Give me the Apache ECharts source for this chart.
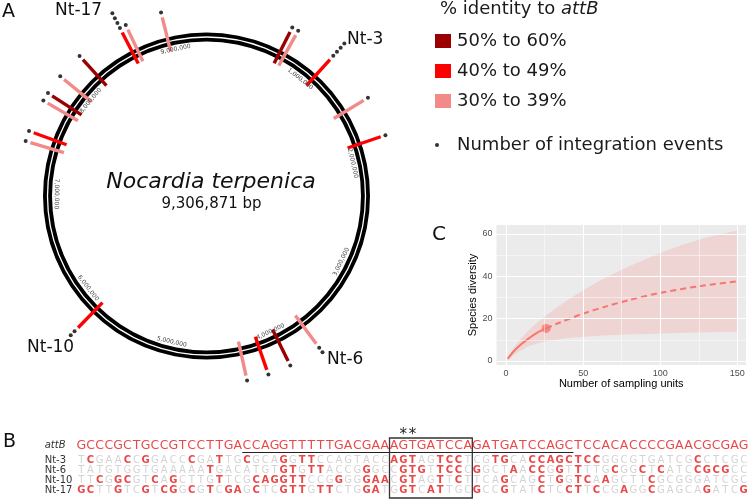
<!DOCTYPE html>
<html><head><meta charset="utf-8">
<script src="https://cdn.jsdelivr.net/npm/echarts@6/dist/echarts.min.js"></script>
<style>html,body{margin:0;padding:0;background:#fff}#c{width:750px;height:500px}</style>
</head><body><div id="c"></div>
<script>
// ===== Panel A data: integration sites on the Nocardia terpenica genome =====
const genomeLength = 9306871;
const sitePositions = [698000, 750000, 1089000, 1517000, 1841000, 3707000, 3973000, 4159000, 4333000, 5798000,
  7417000, 7500000, 7764000, 7833000, 7996000, 8216000, 8602000, 8653000, 8947000];
const siteIdentity = ['50% to 60%', '30% to 39%', '40% to 49%', '30% to 39%', '40% to 49%', '30% to 39%', '50% to 60%',
  '40% to 49%', '30% to 39%', '40% to 49%', '30% to 39%', '40% to 49%', '30% to 39%', '50% to 60%', '30% to 39%',
  '50% to 60%', '40% to 49%', '30% to 39%', '30% to 39%'];
const siteEvents = [1, 1, 4, 1, 1, 2, 1, 1, 1, 2, 1, 1, 1, 1, 1, 1, 4, 1, 1];
const identityClasses = ['50% to 60%', '40% to 49%', '30% to 39%'];
const genomeTickValues = [1000000, 2000000, 3000000, 4000000, 5000000, 6000000, 7000000, 8000000, 9000000];
const genomeTickLabels = ['1,000,000', '2,000,000', '3,000,000', '4,000,000', '5,000,000', '6,000,000', '7,000,000', '8,000,000', '9,000,000'];

// ===== Panel B data: alignment =====
const seqNames = ['attB', 'Nt-3', 'Nt-6', 'Nt-10', 'Nt-17'];
const seqAttB = 'GCCCGCTGCCGTCCTTGACCAGGTTTTTGACGAA' + 'AGTGATCCA' + 'GATGATCCAGCTCCACACCCCGAACGCGAG';
const seqNt3  = 'TCGAACCGGACCCGATTGCGCAGGTTCCAGTACC' + 'AGTAGTCCT' + 'CGTGCACCAGCTCCGGCGTGATCGCCTCGC';
const seqNt6  = 'TATGTGGTGAAAAATGACATGTGTGTTACCGGGC' + 'CGTGTTCCC' + 'GGCTAACCGGTTTTGCGGCTCATCCGCGCC';
const seqNt10 = 'TTCGGCGTCAGCTTGTTCGCAGGTTCCGGGGGAA' + 'CGTAGTTCT' + 'TCAGCAGCTGGTCAAGCTTCGCGGGATCGC';
const seqNt17 = 'GCTTGTCGTCGGCGTCGAGCTCGTTGTTCTGGAT' + 'GGTCATTGC' + 'GCCGTATCTCCTTCCGAGGCGAGCAGATCG';
const sequences = [seqAttB, seqNt3, seqNt6, seqNt10, seqNt17];
const boxStart = 35, boxEnd = 43;          // boxed core (alignment columns)
const lineStart = 19, lineEnd = 54;        // underlined region of attB
const starColumns = [36, 37];

// ===== Panel C data: rarefaction / extrapolation =====
const obsX = [1, 5, 10, 15, 20, 26];
const obsY = [1.0, 4.6, 8.0, 10.8, 13.3, 15.4];
const extX = [26, 35, 50, 65, 80, 100, 125, 150];
const extY = [15.4, 18.2, 22.4, 25.8, 28.8, 32.2, 35.3, 37.6];
const bandX = [1, 3, 5, 8, 10, 13, 16, 20, 26, 32, 40, 50, 60, 70, 80, 90, 100, 115, 130, 150];
const bandLower = [0.6, 1.8, 2.8, 4.3, 5.2, 6.4, 7.3, 8.3, 9.3, 10.0, 10.8, 11.4, 11.9, 12.3, 12.6, 12.8, 13.0, 13.3, 13.6, 13.8];
const bandUpper = [1.4, 4.0, 6.2, 9.0, 10.8, 13.1, 15.3, 18.1, 21.5, 24.8, 28.8, 33.4, 37.5, 41.3, 44.8, 48.0, 51.0, 55.0, 58.4, 61.6];
const xTicksC = [0, 50, 100, 150];
const yTicksC = [0, 20, 40, 60];
const xMinorC = [25, 75, 125];
const yMinorC = [10, 30, 50];

// ===== styling =====
const FONT = 'DejaVu Sans';
const CX = 206.5, CY = 196;
const MARK_R0 = 149, MARK_R1 = 184, DOT_R0 = 189, DOT_STEP = 5.5, LABEL_R = 150;
const classColors = {'50% to 60%': '#9B0000', '40% to 49%': '#FF0000', '30% to 39%': '#F28A8A'};
const RED_SEQ = '#E31A1C', GRAY_SEQ = '#C8C8C8';
const GG = '#F8766D';

const chart = echarts.init(document.getElementById('c'), null, {renderer: 'canvas', width: 750, height: 500});

function markSeries(cls) {
  const data = [];
  sitePositions.forEach((p, i) => { if (siteIdentity[i] === cls) data.push([MARK_R1, p]); });
  const color = classColors[cls];
  return {
    type: 'custom', name: cls, coordinateSystem: 'polar', polarIndex: 0, silent: true, z: 5,
    itemStyle: {color: color},
    data: data,
    renderItem: function (params, api) {
      const pos = api.value(1);
      const a = api.coord([MARK_R0, pos]);
      const b = api.coord([MARK_R1, pos]);
      return {type: 'line', shape: {x1: a[0], y1: a[1], x2: b[0], y2: b[1]},
        style: {stroke: color, lineWidth: 3.4, lineCap: 'butt'}};
    }
  };
}

const dotData = [];
sitePositions.forEach((p, i) => { for (let k = 0; k < siteEvents[i]; k++) dotData.push([DOT_R0 + k * DOT_STEP, p]); });

const tickSeries = {
  type: 'custom', coordinateSystem: 'polar', polarIndex: 0, silent: true, z: 6,
  data: genomeTickValues.map(v => [LABEL_R, v]),
  renderItem: function (params, api) {
    const v = api.value(1);
    const pt = api.coord([LABEL_R, v]);
    const deg = v / genomeLength * 360;
    const rot = (deg > 90 && deg < 275) ? deg - 180 : deg;
    return {type: 'text', x: pt[0], y: pt[1], rotation: -rot * Math.PI / 180,
      style: {text: genomeTickLabels[params.dataIndex], fontSize: 6, fontFamily: FONT, fill: '#444', align: 'center', verticalAlign: 'middle'}};
  }
};

// alignment letters
const attBData = [];
for (let i = 0; i < seqAttB.length; i++) attBData.push({name: seqAttB[i], value: [i + 1, 0]});
const ntData = [];
for (let r = 1; r < sequences.length; r++) {
  const s = sequences[r];
  for (let i = 0; i < s.length; i++) {
    const match = s[i] === seqAttB[i];
    ntData.push({name: s[i], value: [i + 1, r - 1],
      label: {color: match ? RED_SEQ : GRAY_SEQ, fontWeight: match ? 'bold' : 'normal'}});
  }
}

const gridLines = [];
yTicksC.forEach(v => gridLines.push({yAxis: v, lineStyle: {width: 1.1}}));
yMinorC.forEach(v => gridLines.push({yAxis: v, lineStyle: {width: 0.5}}));
xTicksC.forEach(v => gridLines.push({xAxis: v, lineStyle: {width: 1.1}}));
xMinorC.forEach(v => gridLines.push({xAxis: v, lineStyle: {width: 0.5}}));

const option = {
  animation: false,
  textStyle: {fontFamily: FONT},
  title: {
    text: '% identity to {i|attB}', left: 440, top: 0, padding: 0,
    textStyle: {fontSize: 18, fontWeight: 'normal', color: '#1a1a1a', fontFamily: FONT,
      rich: {i: {fontStyle: 'italic', fontSize: 18, fontFamily: FONT, color: '#1a1a1a'}}}
  },
  legend: [
    {data: identityClasses, orient: 'vertical', left: 430, top: 27, itemWidth: 16, itemHeight: 14, itemGap: 12,
      icon: 'rect', selectedMode: false,
      textStyle: {fontSize: 18, fontFamily: FONT, color: '#1a1a1a', padding: [0, 0, 0, 1]}},
    {data: ['Number of integration events'], orient: 'vertical', left: 430, top: 131, itemWidth: 16, itemHeight: 4,
      icon: 'circle', selectedMode: false,
      textStyle: {fontSize: 18, fontFamily: FONT, color: '#1a1a1a', padding: [0, 0, 0, 7]}}
  ],
  polar: {center: [CX, CY], radius: 230},
  angleAxis: {type: 'value', min: 0, max: genomeLength, startAngle: 90, clockwise: true, show: false},
  radiusAxis: {type: 'value', min: 0, max: 230, show: false},
  grid: [
    {left: 496.5, top: 225, width: 249.5, height: 140, show: true, backgroundColor: '#EBEBEB', borderWidth: 0},
    {left: 76.7, top: 440, width: 671.6, height: 11},
    {left: 76.7, top: 455.3, width: 671.6, height: 40}
  ],
  xAxis: [
    {gridIndex: 0, type: 'value', min: -6.2, max: 155.6,
      name: 'Number of sampling units', nameLocation: 'middle', nameGap: 13,
      nameTextStyle: {fontSize: 11, color: '#000', fontFamily: 'Liberation Sans'},
      axisLine: {show: false},
      axisTick: {show: true, length: 3, lineStyle: {color: '#333'}, customValues: xTicksC},
      axisLabel: {customValues: xTicksC, fontSize: 9, color: '#4D4D4D', margin: 4, fontFamily: 'Liberation Sans'},
      splitLine: {show: false}},
    {gridIndex: 1, type: 'value', min: 0.5, max: 73.5, show: false},
    {gridIndex: 2, type: 'value', min: 0.5, max: 73.5, show: false}
  ],
  yAxis: [
    {gridIndex: 0, type: 'value', min: -1.9, max: 64.25,
      name: 'Species diversity', nameLocation: 'middle', nameGap: 16,
      nameTextStyle: {fontSize: 11, color: '#000', fontFamily: 'Liberation Sans'},
      axisLine: {show: false},
      axisTick: {show: true, length: 3, lineStyle: {color: '#333'}, customValues: yTicksC},
      axisLabel: {customValues: yTicksC, fontSize: 9, color: '#4D4D4D', margin: 4, fontFamily: 'Liberation Sans'},
      splitLine: {show: false}},
    {gridIndex: 1, type: 'category', data: ['attB'], inverse: true,
      axisLine: {show: false}, axisTick: {show: false},
      axisLabel: {interval: 0, fontStyle: 'italic', fontSize: 10, color: '#333', align: 'left', margin: 32, fontFamily: FONT}},
    {gridIndex: 2, type: 'category', data: seqNames.slice(1), inverse: true,
      axisLine: {show: false}, axisTick: {show: false},
      axisLabel: {interval: 0, fontSize: 10, color: '#333', align: 'left', margin: 32, fontFamily: FONT}}
  ],
  series: [
    markSeries('50% to 60%'), markSeries('40% to 49%'), markSeries('30% to 39%'),
    {type: 'scatter', name: 'Number of integration events', coordinateSystem: 'polar', polarIndex: 0,
      data: dotData, symbolSize: 4, itemStyle: {color: '#000'}, silent: true, z: 6},
    tickSeries,
    // panel C: gridlines holder
    {type: 'line', xAxisIndex: 0, yAxisIndex: 0, data: [[obsX[0], obsY[0]]], symbol: 'none',
      lineStyle: {opacity: 0}, silent: true, z: 1,
      markLine: {silent: true, symbol: ['none', 'none'], label: {show: false}, animation: false,
        lineStyle: {color: '#FFFFFF', type: 'solid'}, data: gridLines}},
    // confidence band
    {type: 'custom', xAxisIndex: 0, yAxisIndex: 0, data: [[bandX[0], bandLower[0]]], silent: true, z: 2, clip: true,
      renderItem: function (params, api) {
        const pts = [];
        for (let i = 0; i < bandX.length; i++) pts.push(api.coord([bandX[i], bandUpper[i]]));
        for (let i = bandX.length - 1; i >= 0; i--) pts.push(api.coord([bandX[i], bandLower[i]]));
        return {type: 'polygon', shape: {points: pts}, style: {fill: 'rgba(248,118,109,0.2)', stroke: 'none'}};
      }},
    {type: 'line', xAxisIndex: 0, yAxisIndex: 0, data: extX.map((x, i) => [x, extY[i]]),
      smooth: 0.3, symbol: 'none', lineStyle: {color: GG, width: 2, type: [6, 4]}, silent: true, z: 3},
    {type: 'line', xAxisIndex: 0, yAxisIndex: 0, data: obsX.map((x, i) => [x, obsY[i]]),
      smooth: 0.3, symbol: 'none', lineStyle: {color: GG, width: 2}, silent: true, z: 3},
    {type: 'scatter', xAxisIndex: 0, yAxisIndex: 0, data: [[obsX[obsX.length - 1], obsY[obsY.length - 1]]],
      symbol: 'circle', symbolSize: 9, itemStyle: {color: GG}, silent: true, z: 4},
    // panel B
    {type: 'scatter', xAxisIndex: 1, yAxisIndex: 1, data: attBData, symbol: 'circle', symbolSize: 1,
      itemStyle: {color: 'transparent'}, silent: true,
      label: {show: true, position: 'inside', formatter: '{b}', fontSize: 12.5, color: RED_SEQ, fontFamily: FONT}},
    {type: 'scatter', xAxisIndex: 2, yAxisIndex: 2, data: ntData, symbol: 'circle', symbolSize: 1,
      itemStyle: {color: 'transparent'}, silent: true,
      label: {show: true, position: 'inside', formatter: '{b}', fontSize: 10, fontFamily: FONT}}
  ]
};
chart.setOption(option);

// annotations positioned through the alignment axis
const px = v => chart.convertToPixel({xAxisIndex: 2}, v);
const boxL = px(boxStart - 0.5), boxR = px(boxEnd + 0.5);
const lineL = px(lineStart - 0.5), lineR = px(lineEnd + 0.5);
const graphics = [
  {type: 'ring', z: 1, shape: {cx: CX, cy: CY, r: 163.5, r0: 154.5}, style: {fill: '#000'}, silent: true},
  {type: 'circle', z: 1, shape: {cx: CX, cy: CY, r: 159}, style: {fill: 'none', stroke: '#fff', lineWidth: 1.3}, silent: true},
  {type: 'text', x: 2, y: 12, style: {text: 'A', fontSize: 19, fontFamily: FONT, fill: '#111', verticalAlign: 'middle'}},
  {type: 'text', x: 3, y: 442, style: {text: 'B', fontSize: 19, fontFamily: FONT, fill: '#111', verticalAlign: 'middle'}},
  {type: 'text', x: 432, y: 235, style: {text: 'C', fontSize: 20, fontFamily: FONT, fill: '#111', verticalAlign: 'middle'}},
  {type: 'text', x: 55, y: 11, style: {text: 'Nt-17', fontSize: 17, fontFamily: FONT, fill: '#111', verticalAlign: 'middle'}},
  {type: 'text', x: 347, y: 40, style: {text: 'Nt-3', fontSize: 17, fontFamily: FONT, fill: '#111', verticalAlign: 'middle'}},
  {type: 'text', x: 27, y: 348, style: {text: 'Nt-10', fontSize: 17, fontFamily: FONT, fill: '#111', verticalAlign: 'middle'}},
  {type: 'text', x: 327, y: 360, style: {text: 'Nt-6', fontSize: 17, fontFamily: FONT, fill: '#111', verticalAlign: 'middle'}},
  {type: 'text', x: 211, y: 182, style: {text: 'Nocardia terpenica', fontSize: 22, fontStyle: 'italic', fontFamily: FONT, fill: '#111', align: 'center', verticalAlign: 'middle'}},
  {type: 'text', x: 211.5, y: 204, style: {text: '9,306,871 bp', fontSize: 15, fontFamily: FONT, fill: '#111', align: 'center', verticalAlign: 'middle'}},
  {type: 'line', shape: {x1: lineL, y1: 452.5, x2: lineR, y2: 452.5}, style: {stroke: '#222', lineWidth: 1}},
  {type: 'rect', shape: {x: boxL, y: 438, width: boxR - boxL, height: 60}, style: {fill: 'none', stroke: '#333', lineWidth: 1.3}}
];
starColumns.forEach(c => graphics.push({type: 'text', x: px(c), y: 435, style: {text: '*', fontSize: 15, fontFamily: FONT, fill: '#222', align: 'center', verticalAlign: 'middle'}}));
chart.setOption({graphic: graphics});
</script></body></html>
